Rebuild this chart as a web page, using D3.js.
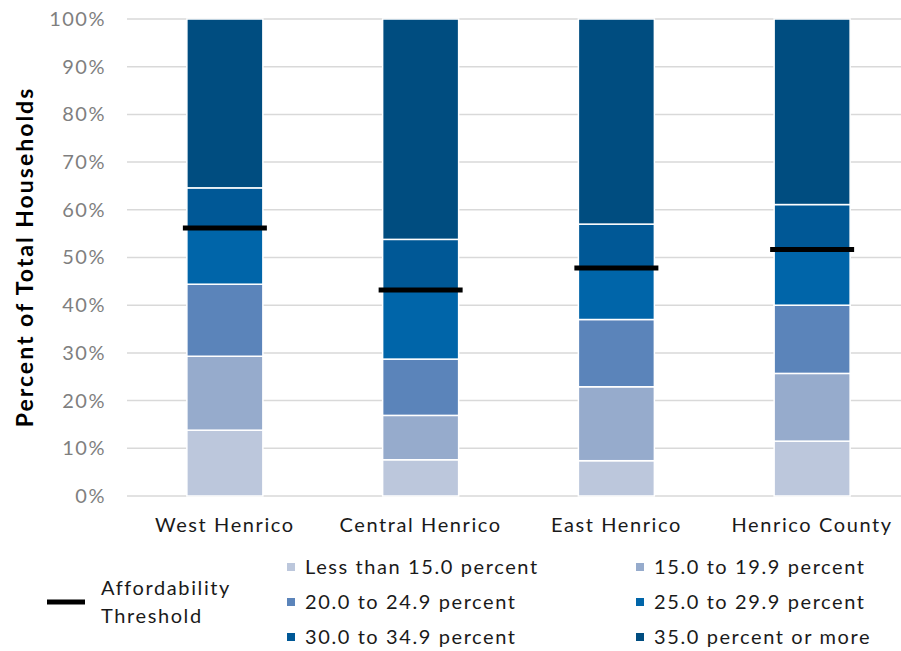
<!DOCTYPE html>
<html>
<head>
<meta charset="utf-8">
<script src="https://cdn.jsdelivr.net/npm/d3@7"></script>
<style>
  html, body { margin: 0; padding: 0; background: #fff; }
  svg { display: block; font-family: Lato, "Open Sans", sans-serif; }
</style>
</head>
<body>
<svg id="chart" width="901" height="651"></svg>
<script>
// Housing cost burden: share of households by percent of income spent on housing
const regions = ["West Henrico", "Central Henrico", "East Henrico", "Henrico County"];
const brackets = [
  "Less than 15.0 percent",
  "15.0 to 19.9 percent",
  "20.0 to 24.9 percent",
  "25.0 to 29.9 percent",
  "30.0 to 34.9 percent",
  "35.0 percent or more"
];
const lessThan15   = [13.8, 7.6, 7.4, 11.5];
const from15to19   = [15.5, 9.3, 15.5, 14.2];
const from20to24   = [15.1, 11.8, 14.1, 14.3];
const from25to29   = [11.8, 14.5, 10.8, 11.7];
const from30to34   = [8.4, 10.6, 9.2, 9.4];
const over35       = [35.4, 46.2, 43.0, 38.9];
const threshold    = [56.2, 43.2, 47.8, 51.7];
const yTicks = [0, 10, 20, 30, 40, 50, 60, 70, 80, 90, 100];
const bracketColors = ["#bcc7dc", "#96abcc", "#5b84ba", "#0065a9", "#005896", "#004d80"];

const series = [lessThan15, from15to19, from20to24, from25to29, from30to34, over35];
const rows = regions.map((r, i) => {
  const o = { region: r };
  brackets.forEach((b, k) => { o[b] = series[k][i]; });
  return o;
});

const svg = d3.select("#chart");
const textSpacing = "1.6px";

const x = d3.scaleBand().domain(regions).range([127, 910]);
const y = d3.scaleLinear().domain([0, 100]).range([496, 19]);
const barW = 76;
const barX = d => x(d) + (x.bandwidth() - barW) / 2;

// horizontal gridlines
svg.append("g")
  .selectAll("line")
  .data(yTicks)
  .join("line")
  .attr("x1", 127).attr("x2", 901)
  .attr("y1", d => y(d)).attr("y2", d => y(d))
  .attr("stroke", "#d9d9d9")
  .attr("stroke-width", 1.5);

// y axis labels
const yAxis = svg.append("g")
  .attr("transform", "translate(106,0)")
  .call(d3.axisLeft(y).tickValues(yTicks).tickFormat(d => d + "%").tickSize(0).tickPadding(0));
yAxis.select(".domain").remove();
yAxis.selectAll("text")
  .attr("fill", "#7f7f7f")
  .style("font-size", "20px")
  .style("letter-spacing", "1.5px")
  .style("font-family", "Lato, sans-serif");

// x axis labels
const xAxis = svg.append("g")
  .attr("transform", "translate(0,496)")
  .call(d3.axisBottom(x).tickSize(0).tickPadding(22));
xAxis.select(".domain").remove();
xAxis.selectAll("text")
  .attr("fill", "#1a1a1a")
  .style("font-size", "20px")
  .style("letter-spacing", textSpacing)
  .style("font-family", "Lato, sans-serif");

// axis title
svg.append("text")
  .attr("transform", "translate(33,257) rotate(-90)")
  .attr("text-anchor", "middle")
  .attr("font-weight", "bold")
  .attr("font-size", "23px")
  .style("letter-spacing", "2px")
  .attr("fill", "#000")
  .text("Percent of Total Households");

// stacked bars
const stack = d3.stack().keys(brackets)(rows);
svg.append("g")
  .selectAll("g")
  .data(stack)
  .join("g")
  .attr("fill", (d, i) => bracketColors[i])
  .selectAll("rect")
  .data(d => d)
  .join("rect")
  .attr("x", d => barX(d.data.region))
  .attr("width", barW)
  .attr("y", d => y(d[1]))
  .attr("height", d => y(d[0]) - y(d[1]))
  .attr("stroke", "#fff")
  .attr("stroke-width", 1.5);

// affordability threshold markers
svg.append("g")
  .selectAll("line")
  .data(regions)
  .join("line")
  .attr("x1", d => barX(d) - 4)
  .attr("x2", d => barX(d) + barW + 4)
  .attr("y1", (d, i) => y(threshold[i]))
  .attr("y2", (d, i) => y(threshold[i]))
  .attr("stroke", "#000")
  .attr("stroke-width", 5);

// legend: threshold
const legT = svg.append("g")
  .attr("font-size", "20px").attr("fill", "#1a1a1a")
  .style("letter-spacing", textSpacing);
legT.append("line")
  .attr("x1", 47).attr("x2", 85).attr("y1", 602).attr("y2", 602)
  .attr("stroke", "#000").attr("stroke-width", 5);
legT.append("text")
  .attr("x", 101).attr("y", 595)
  .text("Affordability");
legT.append("text")
  .attr("x", 101).attr("y", 623)
  .text("Threshold");

// legend: brackets, two columns
const legCols = [287, 636];
const legRows = [567, 602, 637];
const leg = svg.append("g")
  .selectAll("g")
  .data(brackets)
  .join("g")
  .attr("transform", (d, i) => `translate(${legCols[i % 2]},${legRows[Math.floor(i / 2)]})`);
leg.append("rect")
  .attr("x", 0).attr("y", -4).attr("width", 8).attr("height", 8)
  .attr("fill", (d, i) => bracketColors[i]);
leg.append("text")
  .attr("x", 18).attr("y", 0).attr("dy", "0.35em")
  .attr("font-size", "20px").attr("fill", "#1a1a1a")
  .style("letter-spacing", textSpacing)
  .text(d => d);
</script>
</body>
</html>
